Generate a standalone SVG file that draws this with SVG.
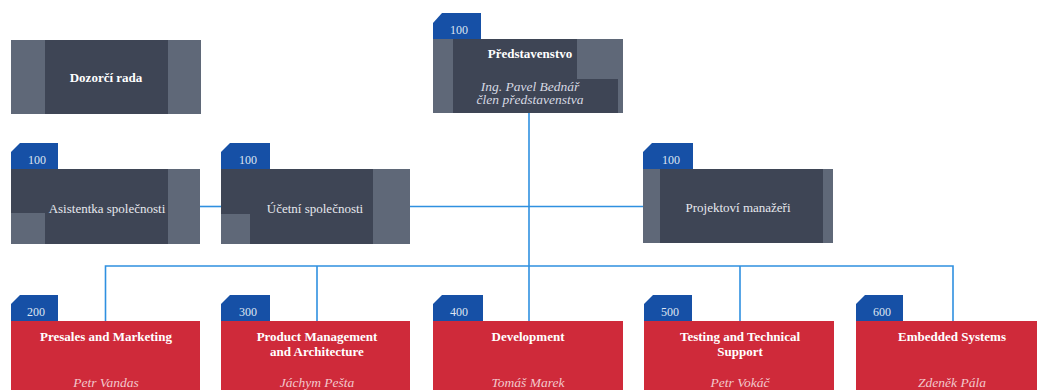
<svg xmlns="http://www.w3.org/2000/svg" width="1037" height="390" viewBox="0 0 1037 390">
<style>
.bg{fill:#ffffff}
.dk{fill:#3e4555}
.lt{fill:#5f6878}
.red{fill:#cf2a3a}
.tab{fill:#1650a6}
.tabt{font-family:"Liberation Serif",serif;font-size:12px;fill:#dfe6f2}
.t{font-family:"Liberation Serif",serif;font-size:13px;fill:#e6e8ee;text-anchor:middle}
.tb{font-family:"Liberation Serif",serif;font-size:13px;font-weight:bold;fill:#ffffff;text-anchor:middle}
.ti{font-family:"Liberation Serif",serif;font-size:13.5px;font-style:italic;fill:#d6d9e2;text-anchor:middle}
.tir{font-family:"Liberation Serif",serif;font-size:13.5px;font-style:italic;fill:#f2c8cc;text-anchor:middle}
.ln{stroke:#2f90e0;stroke-width:1.6;fill:none}
</style>
<rect class="bg" x="0" y="0" width="1037" height="390"/>
<g id="connectors">
<path class="ln" d="M529 113 V266"/>
<path class="ln" d="M199 206.5 H221"/>
<path class="ln" d="M410 206.5 H643"/>
<path class="ln" d="M105.5 321 V266 H953 V321"/>
<path class="ln" d="M317 266 V321"/>
<path class="ln" d="M529 266 V321"/>
<path class="ln" d="M740 266 V321"/>
</g>
<g id="dozorci">
<rect class="lt" x="11" y="40" width="190" height="74"/>
<rect class="dk" x="45" y="40" width="123" height="74"/>
<text class="tb" x="106" y="82">Dozorčí rada</text>
</g>
<g id="predstavenstvo">
<polygon class="tab" points="433,23 442,13 481,13 481,39 433,39"/>
<text class="tabt" x="450" y="34">100</text>
<rect class="lt" x="433" y="39" width="190" height="74"/>
<rect class="dk" x="453" y="39" width="124" height="74"/>
<rect class="dk" x="453" y="79" width="165" height="34"/>
<text class="tb" x="530" y="58">Představenstvo</text>
<text class="ti" x="530" y="91">Ing. Pavel Bednář</text>
<text class="ti" x="530" y="104">člen představenstva</text>
</g>
<g id="asistentka">
<polygon class="tab" points="11,152 20,143 58,143 58,169 11,169"/>
<text class="tabt" x="28" y="164">100</text>
<rect class="dk" x="11" y="169" width="189" height="75"/>
<rect class="lt" x="11" y="213" width="34" height="31"/>
<rect class="lt" x="168" y="169" width="32" height="75"/>
<text class="t" x="107" y="213">Asistentka společnosti</text>
</g>
<g id="ucetni">
<polygon class="tab" points="221,152 230,143 270,143 270,169 221,169"/>
<text class="tabt" x="239" y="164">100</text>
<rect class="dk" x="221" y="169" width="189" height="75"/>
<rect class="lt" x="221" y="214" width="29" height="30"/>
<rect class="lt" x="373" y="169" width="37" height="75"/>
<text class="t" x="315" y="213">Účetní společnosti</text>
</g>
<g id="projektovi">
<polygon class="tab" points="643,152 652,143 693,143 693,169 643,169"/>
<text class="tabt" x="662" y="164">100</text>
<rect class="lt" x="643" y="169" width="190" height="74"/>
<rect class="dk" x="660" y="169" width="163" height="74"/>
<text class="t" x="738" y="212">Projektoví manažeři</text>
</g>
<g id="n200">
<polygon class="tab" points="11,304 20,295 58,295 58,321 11,321"/>
<text class="tabt" x="27" y="316">200</text>
<rect class="red" x="11" y="321" width="189" height="69"/>
<text class="tb" x="106" y="341">Presales and Marketing</text>
<text class="tir" x="106" y="387">Petr Vandas</text>
</g>
<g id="n300">
<polygon class="tab" points="221,304 230,295 270,295 270,321 221,321"/>
<text class="tabt" x="239" y="316">300</text>
<rect class="red" x="221" y="321" width="189" height="69"/>
<text class="tb" x="317" y="341">Product Management</text>
<text class="tb" x="317" y="356">and Architecture</text>
<text class="tir" x="317" y="387">Jáchym Pešta</text>
</g>
<g id="n400">
<polygon class="tab" points="433,304 442,295 483,295 483,321 433,321"/>
<text class="tabt" x="450" y="316">400</text>
<rect class="red" x="433" y="321" width="190" height="69"/>
<text class="tb" x="528" y="341">Development</text>
<text class="tir" x="528" y="387">Tomáš Marek</text>
</g>
<g id="n500">
<polygon class="tab" points="644,304 653,295 692,295 692,321 644,321"/>
<text class="tabt" x="661" y="316">500</text>
<rect class="red" x="644" y="321" width="190" height="69"/>
<text class="tb" x="740" y="341">Testing and Technical</text>
<text class="tb" x="740" y="356">Support</text>
<text class="tir" x="740" y="387">Petr Vokáč</text>
</g>
<g id="n600">
<polygon class="tab" points="856,304 865,295 903,295 903,321 856,321"/>
<text class="tabt" x="873" y="316">600</text>
<rect class="red" x="856" y="321" width="181" height="69"/>
<text class="tb" x="952" y="341">Embedded Systems</text>
<text class="tir" x="952" y="387">Zdeněk Pála</text>
</g>
</svg>
